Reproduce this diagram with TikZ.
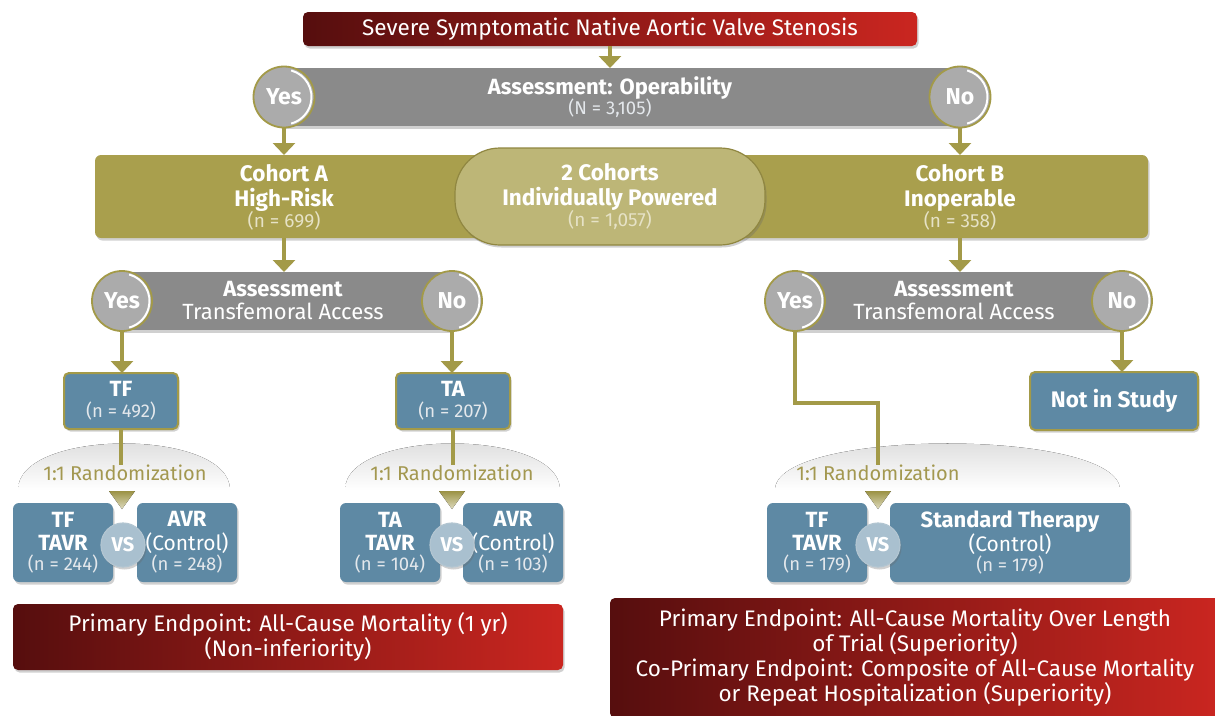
\documentclass[tikz,border=0pt]{standalone}
\usepackage{fontspec}
\setmainfont{Fira Sans}
\usetikzlibrary{arrows.meta,shadows,calc}
\definecolor{olive}{HTML}{A99F4D}
\definecolor{oliveline}{HTML}{A39A48}
\definecolor{pillc}{HTML}{BDB677}
\definecolor{barg}{HTML}{8A8A8A}
\definecolor{circg}{HTML}{ABABAB}
\definecolor{bluebox}{HTML}{5E89A4}
\definecolor{vsc}{HTML}{A9C0CF}
\definecolor{vsedge}{HTML}{7F9FB3}
\definecolor{dred}{HTML}{560E0E}
\definecolor{lred}{HTML}{CA2620}
\definecolor{randtxt}{HTML}{A39850}
\definecolor{lighttxt}{HTML}{E4E8EC}
\definecolor{olivetxt}{HTML}{E6E2C6}
\newcommand\nsz{\fontsize{18.5}{20}\selectfont\mdseries\color{lighttxt}}
\newcommand\osz{\fontsize{19}{20}\selectfont\mdseries\color{olivetxt}}
\newcommand\ctl{\fontsize{21}{22}\selectfont\mdseries}
\begin{document}
\begin{tikzpicture}[x=1pt,y=-1pt,
  every node/.style={inner sep=0pt, outer sep=0pt},
  shad/.style={drop shadow={shadow xshift=1.5pt, shadow yshift=-2.5pt, opacity=.3, fill=black!60}},
  redbox/.style={rounded corners=5pt, left color=dred, right color=lred, text=white, align=center, font=\fontsize{22.5}{25}\selectfont, shad},
  graybar/.style={fill=barg, minimum height=58pt, shad},
  yn/.style={circle, fill=circg, draw=oliveline, line width=1.8pt, minimum size=61pt, text=white, font=\fontsize{23}{24}\selectfont\bfseries,
    path picture={\draw[white, line width=2pt] (path picture bounding box.center) ++(-75:27.5) arc[start angle=-75, end angle=75, radius=27.5];}},
  bartxt/.style={text=white, align=center, font=\fontsize{22}{21}\selectfont},
  cohbar/.style={fill=olive, rounded corners=6pt, shad},
  pillbox/.style={fill=pillc, draw=olive!85!black, line width=1.2pt, rounded corners=45pt, shad},
  cohtxt/.style={text=white, align=center, font=\fontsize{22.5}{25}\selectfont\bfseries},
  bbox/.style={fill=bluebox, draw=oliveline, line width=2pt, rounded corners=5pt, text=white, align=center, font=\fontsize{22}{21}\selectfont, shad},
  armbox/.style={fill=bluebox, rounded corners=6pt, text=white, align=center, font=\fontsize{22}{23}\selectfont, minimum height=79pt, shad},
  vs/.style={circle, fill=vsc, draw=vsedge!60!white, line width=1.2pt, minimum size=44pt, text=white, font=\fontsize{20}{20}\selectfont\bfseries, shad},
  randtext/.style={text=randtxt, font=\fontsize{20}{20}\selectfont},
  conn/.style={draw=oliveline, line width=3.5pt, -{Triangle[width=22pt,length=12pt]}},
  plainline/.style={draw=oliveline, line width=3.5pt},
  dome/.style={top color=black!16, bottom color=white, draw=none},
  randtri/.style={top color=oliveline!95!black, bottom color=oliveline!35!white, draw=none}
]
\useasboundingbox (0,0) rectangle (1215,715);
\fill[white] (0,0) rectangle (1215,715);

% ---------- top ----------
\node[redbox, minimum width=614pt, minimum height=34pt] (top) at (610,29) {Severe Symptomatic Native Aortic Valve Stenosis};

\node[graybar, minimum width=677pt] (opbar) at (621.5,97) {};
\draw[conn] (top.south) -- (top.south |- opbar.north);
\node[yn] (yes1) at (284,97) {Yes};
\node[yn] (no1) at (960,97) {No};
\node[bartxt] (optxt) at (610,97) {\bfseries Assessment: Operability\\[-1pt]{\nsz (N = 3,105)}};

% ---------- cohorts ----------
\node[cohbar, minimum width=1053pt, minimum height=83pt] (cohbar) at (621.5,196.5) {};
\draw[conn] (yes1) -- (yes1 |- cohbar.north);
\draw[conn] (no1) -- (no1 |- cohbar.north);
\node[pillbox, minimum width=310pt, minimum height=97pt] (pill) at (610,196.5) {};
\node[cohtxt] (pilltxt) at (610,197) {2 Cohorts\\Individually Powered\\[-4pt]{\osz (n = 1,057)}};
\node[cohtxt] (cohA) at (284,197) {Cohort A\\High-Risk\\[-4pt]{\osz (n = 699)}};
\node[cohtxt] (cohB) at (960,197) {Cohort B\\Inoperable\\[-4pt]{\osz (n = 358)}};

% ---------- assessment A ----------
\node[graybar, minimum width=330pt] (asmtA) at (287,301) {};
\draw[conn] (cohbar.south -| cohA) -- (asmtA.north -| cohA);
\node[yn, minimum size=60pt] (yesA) at (122,301) {Yes};
\node[yn, minimum size=60pt] (noA) at (452,301) {No};
\node[bartxt, font=\fontsize{22}{23}\selectfont] (asmtAtxt) at (283,301) {\bfseries Assessment\\Transfemoral Access};

% ---------- assessment B ----------
\node[graybar, minimum width=327pt] (asmtB) at (958.5,301) {};
\draw[conn] (cohbar.south -| cohB) -- (asmtB.north -| cohB);
\node[yn, minimum size=60pt] (yesB) at (795,301) {Yes};
\node[yn, minimum size=60pt] (noB) at (1122,301) {No};
\node[bartxt, font=\fontsize{22}{23}\selectfont] (asmtBtxt) at (954,301) {\bfseries Assessment\\Transfemoral Access};

% ---------- TF / TA ----------
\node[bbox, minimum width=114pt, minimum height=56pt] (tf) at (121,401) {\bfseries TF\\{\nsz (n = 492)}};
\node[bbox, minimum width=114pt, minimum height=56pt] (ta) at (453,401) {\bfseries TA\\{\nsz (n = 207)}};
\draw[conn] (yesA) -- (yesA |- tf.north);
\draw[conn] (noA) -- (noA |- ta.north);
\node[bbox, minimum width=168pt, minimum height=58pt, font=\fontsize{22.5}{22}\selectfont\bfseries] (notin) at (1114,401) {Not in Study};
\draw[conn] (noB) -- (noB |- notin.north);

% ---------- randomization domes ----------
\fill[dome] (18,490) .. controls (18,428) and (230,428) .. (230,490) -- cycle;
\fill[dome] (345,490) .. controls (345,428) and (560,428) .. (560,490) -- cycle;
\fill[dome] (775,490) .. controls (775,428) and (1120,428) .. (1120,490) -- cycle;
\node[randtext] (randA) at (125,473) {1:1 Randomization};
\node[randtext] (randT) at (452,473) {1:1 Randomization};
\node[randtext] (randB) at (878,473) {1:1 Randomization};
\draw[plainline] (tf.south) -- (tf.south |- randA.north);
\draw[plainline] (ta.south) -- (ta.south |- randT.north);
\coordinate (bend) at (795,403);
\draw[plainline] (yesB.south) -- (bend) -| (randB.north);

% ---------- arms ----------
\node[armbox, minimum width=100pt] (tftavr) at (63,542.5) {\bfseries TF\\\bfseries TAVR\\[-3pt]{\nsz (n = 244)}};
\node[armbox, minimum width=100pt] (avr1) at (187,542.5) {\bfseries AVR\\[1pt]{\ctl (Control)}\\[-3pt]{\nsz (n = 248)}};
\node[armbox, minimum width=100pt] (tatavr) at (390,542.5) {\bfseries TA\\\bfseries TAVR\\[-3pt]{\nsz (n = 104)}};
\node[armbox, minimum width=100pt] (avr2) at (513,542.5) {\bfseries AVR\\[1pt]{\ctl (Control)}\\[-3pt]{\nsz (n = 103)}};
\node[armbox, minimum width=100pt] (tftavr2) at (817,542.5) {\bfseries TF\\\bfseries TAVR\\[-3pt]{\nsz (n = 179)}};
\node[armbox, minimum width=240pt] (std) at (1010,542.5) {\bfseries Standard Therapy\\[1pt]{\ctl (Control)}\\[-3pt]{\nsz (n = 179)}};

\foreach \xx in {122, 452, 878}{
  \fill[randtri] (\xx-13,491) -- (\xx+13,491) -- (\xx,509) -- cycle;
}
\node[vs] (vs1) at (123,545) {VS};
\node[vs] (vs2) at (452,545) {VS};
\node[vs] (vs3) at (878,545) {VS};

% ---------- endpoints ----------
\node[redbox, minimum width=550pt, minimum height=66pt] (ep1) at (288,637) {Primary Endpoint: All-Cause Mortality (1 yr)\\(Non-inferiority)};
\node[redbox, minimum width=610pt, minimum height=120pt] (ep2) at (915,658) {Primary Endpoint: All-Cause Mortality Over Length\\of Trial (Superiority)\\Co-Primary Endpoint: Composite of All-Cause Mortality\\or Repeat Hospitalization (Superiority)};
\end{tikzpicture}
\end{document}
